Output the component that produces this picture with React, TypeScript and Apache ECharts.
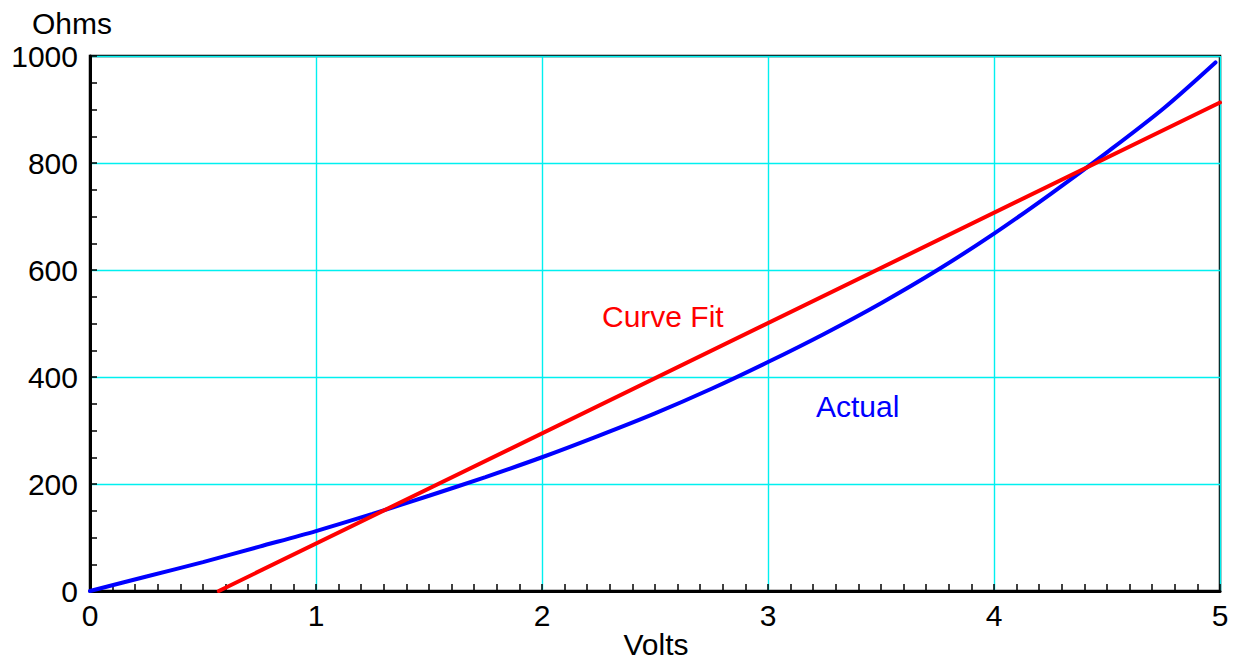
import React, { useEffect, useRef } from "react";
import * as echarts from "echarts";

const actualVolts = [0, 0.25, 0.5, 0.75, 1, 1.25, 1.5, 1.75, 2, 2.25, 2.5, 2.75, 3, 3.25, 3.5, 3.75, 4, 4.25, 4.5, 4.75, 4.98];
const actualOhms = [0, 27, 54, 83, 112, 144, 178, 213, 250, 290, 332, 378, 428, 481, 538, 600, 668, 742, 820, 902, 988];
const fitVolts = [0.57, 5];
const fitOhms = [0, 913];
const xTicks = { min: 0, max: 5, interval: 1 };
const yTicks = { min: 0, max: 1000, interval: 200 };

const FONT = "'Liberation Sans', Arial, Helvetica, sans-serif";

export default function App() {
  const ref = useRef<HTMLDivElement>(null);
  useEffect(() => {
    if (!ref.current) return;
    const chart = echarts.init(ref.current, null, { renderer: "svg" });
    const L = 90, R = 1220, T = 56, B = 591;
    chart.setOption({
      animation: false,
      backgroundColor: "#ffffff",
      grid: {
        left: L,
        right: 1245 - R,
        top: T,
        bottom: 660 - B,
        show: true,
        borderColor: "#000",
        borderWidth: 2.5,
        backgroundColor: "transparent",
      },
      xAxis: {
        type: "value",
        min: xTicks.min,
        max: xTicks.max,
        interval: xTicks.interval,
        axisLine: { show: true, onZero: false, lineStyle: { color: "#000", width: 3 } },
        axisTick: { show: true, inside: true, length: 7, lineStyle: { color: "#000", width: 1.5 } },
        minorTick: { show: true, splitNumber: 10, length: 7, lineStyle: { color: "#000", width: 1.5 } },
        axisLabel: { color: "#000", fontSize: 30, fontFamily: FONT, margin: 9, formatter: (v: number) => String(v) },
        splitLine: { show: true, lineStyle: { color: "#00f0f0", width: 1.4 } },
      },
      yAxis: {
        type: "value",
        min: yTicks.min,
        max: yTicks.max,
        interval: yTicks.interval,
        axisLine: { show: true, onZero: false, lineStyle: { color: "#000", width: 3 } },
        axisTick: { show: true, inside: true, length: 7, lineStyle: { color: "#000", width: 1.5 } },
        minorTick: { show: true, splitNumber: 4, length: 7, lineStyle: { color: "#000", width: 1.5 } },
        axisLabel: { color: "#000", fontSize: 30, fontFamily: FONT, margin: 12, formatter: (v: number) => String(v) },
        splitLine: { show: true, lineStyle: { color: "#00f0f0", width: 1.4 } },
      },
      series: [
        {
          name: "Actual",
          type: "line",
          smooth: 0.3,
          showSymbol: false,
          data: actualVolts.map((v, i) => [v, actualOhms[i]]),
          lineStyle: { color: "#0000ff", width: 4, cap: "round" },
          z: 3,
        },
        {
          name: "Curve Fit",
          type: "line",
          showSymbol: false,
          data: fitVolts.map((v, i) => [v, fitOhms[i]]),
          lineStyle: { color: "#ff0000", width: 4, cap: "round" },
          z: 4,
        },
      ],
      graphic: [
        {
          type: "text",
          x: 32,
          y: 23,
          style: { text: "Ohms", fill: "#000", font: `30px ${FONT}`, align: "left", verticalAlign: "middle" },
        },
        {
          type: "text",
          x: 656,
          y: 644,
          style: { text: "Volts", fill: "#000", font: `30px ${FONT}`, align: "center", verticalAlign: "middle" },
        },
        {
          type: "text",
          x: 602,
          y: 316,
          style: { text: "Curve Fit", fill: "#ff0000", font: `30px ${FONT}`, align: "left", verticalAlign: "middle" },
        },
        {
          type: "text",
          x: 816,
          y: 406,
          style: { text: "Actual", fill: "#0000ff", font: `30px ${FONT}`, align: "left", verticalAlign: "middle" },
        },
      ],
    });
    return () => chart.dispose();
  }, []);
  return (
    <div
      ref={ref}
      style={{ position: "absolute", left: 0, top: 0, width: 1245, height: 660 }}
    />
  );
}
